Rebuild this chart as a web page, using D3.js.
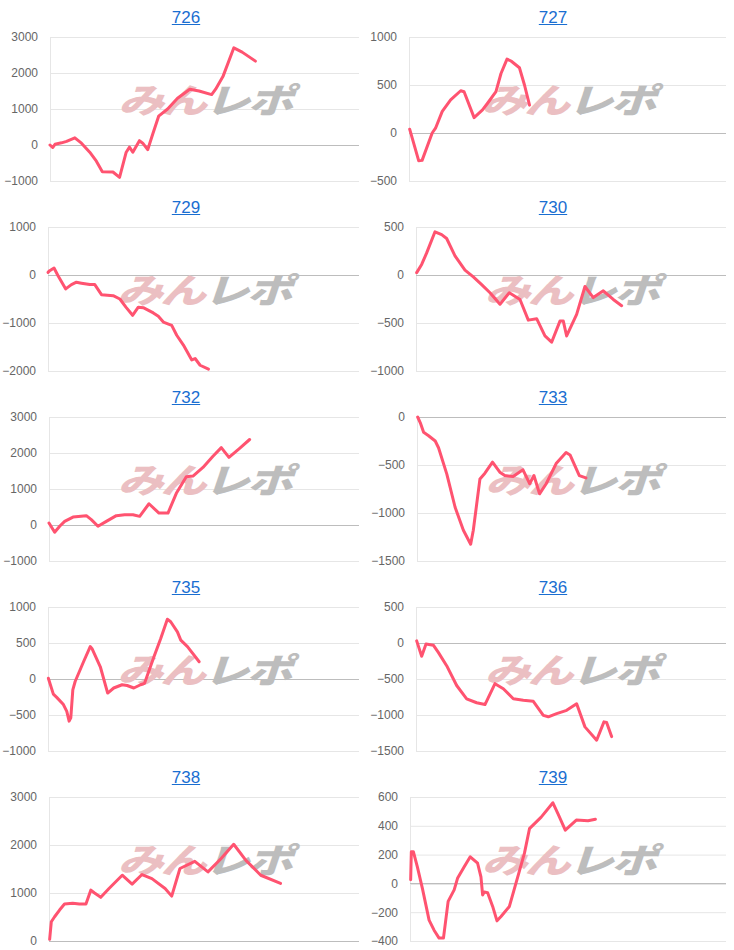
<!DOCTYPE html>
<html>
<head>
<meta charset="utf-8">
<script src="https://cdn.jsdelivr.net/npm/d3@7"></script>
<style>
  html, body { margin: 0; padding: 0; background: #fff; }
  svg { display: block; }
</style>
</head>
<body>
<svg id="chart" width="734" height="950"></svg>
<script>
// ---- Data (x = games played, y = difference in medals) ----
const titles = ["726", "727", "729", "730", "732", "733", "735", "736", "738", "739"];

const games726 = [0,86,161,375,536,804,1018,1286,1501,1694,2037,2251,2466,2573,2680,2894,3002,3162,3323,3516,3806,4127,4524,4824,5231,5360,5596,5950,6218,6647];
const diff726  = [0,-70,20,60,100,200,50,-200,-450,-740,-750,-900,-200,-60,-200,120,50,-130,300,800,1000,1300,1550,1500,1400,1550,1900,2700,2580,2330];

const games727 = [21,307,413,731,837,1049,1313,1631,1737,2054,2319,2478,2743,2902,3092,3219,3484,3643,3802];
const diff727  = [40,-290,-285,0,50,225,345,440,430,160,240,310,430,620,770,750,680,500,290];

const games729 = [0,54,194,323,570,753,914,1075,1344,1505,1720,2096,2311,2505,2720,2903,3064,3386,3548,3709,3978,4139,4354,4623,4730,4891,5160];
const diff729  = [55,90,145,-15,-290,-200,-150,-170,-200,-200,-410,-430,-500,-670,-840,-670,-680,-790,-860,-980,-1050,-1255,-1460,-1770,-1740,-1880,-1960];

const games730 = [22,183,344,613,828,989,1258,1580,1849,2118,2387,2709,3010,3354,3623,3892,4160,4375,4644,4752,4859,5182,5450,5719,6042,6364,6633];
const diff730  = [25,110,230,450,420,380,200,50,-20,-100,-185,-305,-185,-255,-470,-455,-635,-700,-480,-480,-635,-410,-120,-235,-165,-255,-320];

const games732 = [0,183,344,505,774,1204,1365,1580,1849,2172,2440,2709,2924,3225,3548,3838,4107,4429,4644,4967,5289,5558,5805,6149,6472];
const diff732  = [55,-200,-35,100,220,260,150,-35,100,260,285,285,240,590,330,330,880,1340,1360,1600,1910,2150,1880,2130,2375];

const games733 = [21,107,214,375,590,697,965,1233,1501,1737,1822,2037,2198,2444,2680,2841,3109,3430,3645,3784,3966,4181,4502,4824,4953,5253,5467];
const diff733  = [0,-60,-160,-195,-250,-320,-595,-940,-1180,-1325,-1180,-645,-585,-470,-575,-610,-620,-550,-695,-610,-800,-695,-485,-370,-395,-610,-635];

const games735 = [11,172,280,496,604,679,733,798,873,1143,1358,1412,1682,1919,2113,2382,2544,2760,2975,3105,3407,3622,3838,3945,4161,4269,4484,4861];
const diff735  = [10,-210,-255,-355,-450,-585,-540,-150,-35,240,450,425,170,-195,-125,-80,-90,-125,-80,-60,310,560,830,795,655,540,450,240];

const games736 = [22,183,323,559,720,989,1312,1634,1957,2225,2548,2817,3139,3462,3784,4107,4268,4537,4859,5182,5450,5827,6063,6149,6310];
const diff736  = [30,-185,-15,-30,-130,-315,-590,-775,-830,-855,-565,-635,-775,-795,-810,-1005,-1025,-980,-935,-845,-1165,-1350,-1095,-1105,-1300];

const games738 = [21,74,181,340,500,766,979,1192,1351,1458,1670,1936,2362,2681,3000,3320,3745,3958,4224,4703,5128,5554,5958,6352,6831,7469];
const diff738  = [35,400,505,645,770,785,770,770,1060,1005,910,1095,1370,1185,1385,1300,1095,935,1510,1660,1440,1720,2015,1680,1370,1200];

const games739 = [21,42,106,233,392,604,762,921,1059,1207,1398,1504,1716,1906,2139,2245,2298,2351,2457,2616,2753,2880,3145,3410,3622,3781,4151,4522,4681,4914,5263,5634,5867];
const diff739  = [25,220,220,115,-35,-255,-325,-380,-380,-125,-45,35,115,185,140,45,-80,-60,-65,-160,-260,-230,-160,45,210,380,460,560,485,370,440,435,445];

// y-axis tick labels for each chart
const ticks726 = [-1000, 0, 1000, 2000, 3000];
const ticks727 = [-500, 0, 500, 1000];
const ticks729 = [-2000, -1000, 0, 1000];
const ticks730 = [-1000, -500, 0, 500];
const ticks732 = [-1000, 0, 1000, 2000, 3000];
const ticks733 = [-1500, -1000, -500, 0];
const ticks735 = [-1000, -500, 0, 500, 1000];
const ticks736 = [-1500, -1000, -500, 0, 500];
const ticks738 = [0, 1000, 2000, 3000];
const ticks739 = [-400, -200, 0, 200, 400, 600];

const gamesDomain = [0, 10000];

const seriesGames = [games726, games727, games729, games730, games732, games733, games735, games736, games738, games739];
const seriesDiff  = [diff726, diff727, diff729, diff730, diff732, diff733, diff735, diff736, diff738, diff739];
const seriesTicks = [ticks726, ticks727, ticks729, ticks730, ticks732, ticks733, ticks735, ticks736, ticks738, ticks739];

// ---- Layout ----
const panelW = 367, rowH = 189.9;
const plotLeft = [50, 42, 48, 49, 49, 50, 48, 49, 49, 43]; // left edge of plot inside each panel
const plotRightOff = 359, plotTopOff = 37, plotBottomOff = 181;

const svg = d3.select("#chart");
const font = "Arial, 'Liberation Sans', sans-serif";

titles.forEach((t, i) => {
  const col = i % 2, row = Math.floor(i / 2);
  const px = col * panelW, py = Math.round(row * rowH);
  const g = svg.append("g").attr("transform", `translate(${px},${py})`);
  const x0 = plotLeft[i], x1 = plotRightOff, y0 = plotTopOff, y1 = plotBottomOff;
  const tk = seriesTicks[i];

  const x = d3.scaleLinear().domain(gamesDomain).range([x0, x1]);
  const y = d3.scaleLinear().domain([d3.min(tk), d3.max(tk)]).range([y1, y0]);

  // Title link
  const tt = g.append("text")
    .attr("x", 186).attr("y", 23)
    .attr("text-anchor", "middle")
    .attr("font-family", font).attr("font-size", 17)
    .attr("fill", "#1a6ed1")
    .text(t);
  const tw = tt.node().getComputedTextLength();
  g.append("line").attr("x1", 186 - tw / 2).attr("x2", 186 + tw / 2)
    .attr("y1", 24.5).attr("y2", 24.5)
    .attr("stroke", "#1a6ed1").attr("stroke-width", 1);

  // gridlines + labels
  const axis = d3.axisLeft(y).tickValues(tk).tickSize(-(x1 - x0)).tickPadding(12).tickFormat(d3.format("d"));
  const ag = g.append("g").attr("transform", `translate(${x0},0)`).call(axis);
  ag.select(".domain").remove();
  ag.selectAll(".tick line")
    .attr("stroke", d => d === 0 ? "#bdbdbd" : "#e6e6e6")
    .attr("stroke-width", 1);
  ag.selectAll(".tick text")
    .attr("font-family", font).attr("font-size", 12)
    .attr("fill", "#666");
  g.append("line").attr("x1", x0 + 0.5).attr("x2", x0 + 0.5).attr("y1", y0).attr("y2", y1)
    .attr("stroke", "#e6e6e6");
  if (tk.includes(0)) {
    g.append("line").attr("x1", x0).attr("x2", x1).attr("y1", Math.round(y(0)) + 0.5).attr("y2", Math.round(y(0)) + 0.5)
      .attr("stroke", "#bdbdbd");
  }

  // watermark
  const wmg = g.append("g").attr("transform", `translate(${(x0 + x1) / 2},113) scale(1.27,0.95)`);
  const wm = wmg.append("text")
    .attr("x", 0).attr("y", 0)
    .attr("text-anchor", "middle")
    .attr("font-family", "'Noto Sans CJK JP', sans-serif")
    .attr("font-size", 36).attr("font-weight", 900).attr("font-style", "italic")
    .attr("letter-spacing", -2);
  wm.append("tspan").attr("fill", "#ebbfc2").text("みん");
  wm.append("tspan").attr("fill", "#bdbdbd").text("レポ");

  // line
  const pts = seriesGames[i].map((gm, k) => [gm, seriesDiff[i][k]]);
  g.append("path")
    .datum(pts)
    .attr("fill", "none")
    .attr("stroke", "#ff5370")
    .attr("stroke-width", 3)
    .attr("stroke-linejoin", "round")
    .attr("stroke-linecap", "round")
    .attr("d", d3.line().x(d => x(d[0])).y(d => y(d[1])));
});
</script>
</body>
</html>
